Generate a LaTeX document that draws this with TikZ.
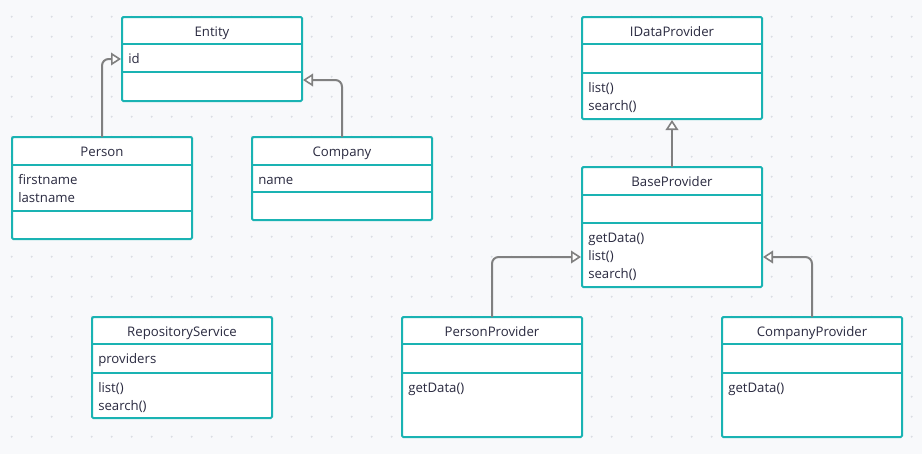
\documentclass[tikz,border=0pt]{standalone}
\usepackage{fontspec}
\setmainfont{Open Sans}
\usetikzlibrary{arrows.meta,calc}
\definecolor{teal1}{RGB}{26,179,179}
\definecolor{txt}{RGB}{42,42,64}
\definecolor{arr}{RGB}{128,128,128}
\definecolor{bg}{RGB}{248,249,251}
\definecolor{dotc}{RGB}{218,221,227}
\tikzset{inhtip/.tip={Triangle[length=7.5pt, width=9.5pt, fill=white, line width=1.2pt]}}
\begin{document}
\begin{tikzpicture}[x=0.75pt,y=-0.75pt,
  cls/.style={draw=teal1, line width=1.5pt, fill=white, minimum width=135pt, anchor=north west, inner sep=0pt, outer sep=0pt, rounded corners=1pt},
  ttl/.style={anchor=base, inner sep=0pt, text=txt, font=\fontsize{9.9pt}{13.5pt}\selectfont},
  itm/.style={anchor=base west, inner sep=0pt, text=txt, font=\fontsize{9.9pt}{13.5pt}\selectfont},
  divl/.style={draw=teal1, line width=1.5pt},
  inh/.style={draw=arr, line width=1.5pt, arrows={-inhtip}, shorten >=0.75pt}]
\fill[bg] (0,0) rectangle (922,454);
\useasboundingbox (0,0) rectangle (922,454);
\foreach \i in {0,...,45} \foreach \j in {0,...,21} \fill[dotc] (11.7+20*\i, 16.7+20*\j) circle (0.8pt);
% boxes
\node[cls, minimum height=63pt] (entity) at (122,17) {};
\node[cls, minimum height=76.5pt] (person) at (12,137) {};
\node[cls, minimum height=62.25pt] (company) at (252,137) {};
\node[cls, minimum height=76.5pt] (idp) at (582,17) {};
\node[cls, minimum height=90pt] (base) at (582,167) {};
\node[cls, minimum height=75.75pt] (repo) at (92,317) {};
\node[cls, minimum height=90pt] (pprov) at (402,317) {};
\node[cls, minimum height=90pt] (cprov) at (722,317) {};
% dividers
\draw[divl] ($(entity.north west)+(0,27)$) -- ($(entity.north east)+(0,27)$);
\draw[divl] ($(entity.north west)+(0,55)$) -- ($(entity.north east)+(0,55)$);
\draw[divl] ($(person.north west)+(0,28)$) -- ($(person.north east)+(0,28)$);
\draw[divl] ($(person.north west)+(0,74)$) -- ($(person.north east)+(0,74)$);
\draw[divl] ($(company.north west)+(0,28)$) -- ($(company.north east)+(0,28)$);
\draw[divl] ($(company.north west)+(0,55)$) -- ($(company.north east)+(0,55)$);
\draw[divl] ($(idp.north west)+(0,27)$) -- ($(idp.north east)+(0,27)$);
\draw[divl] ($(idp.north west)+(0,56)$) -- ($(idp.north east)+(0,56)$);
\draw[divl] ($(base.north west)+(0,28)$) -- ($(base.north east)+(0,28)$);
\draw[divl] ($(base.north west)+(0,56)$) -- ($(base.north east)+(0,56)$);
\draw[divl] ($(repo.north west)+(0,27)$) -- ($(repo.north east)+(0,27)$);
\draw[divl] ($(repo.north west)+(0,56)$) -- ($(repo.north east)+(0,56)$);
\draw[divl] ($(pprov.north west)+(0,27)$) -- ($(pprov.north east)+(0,27)$);
\draw[divl] ($(pprov.north west)+(0,56)$) -- ($(pprov.north east)+(0,56)$);
\draw[divl] ($(cprov.north west)+(0,27)$) -- ($(cprov.north east)+(0,27)$);
\draw[divl] ($(cprov.north west)+(0,56)$) -- ($(cprov.north east)+(0,56)$);
% texts
\node[ttl] (entityT) at (212,36.5) {Entity};
\node[itm] (entityA1) at (128,63.5) {id};
\node[ttl] (personT) at (102,156.5) {Person};
\node[itm] (personA1) at (18,184.5) {firstname};
\node[itm] (personA2) at (18,202.5) {lastname};
\node[ttl] (companyT) at (342,156.5) {Company};
\node[itm] (companyA1) at (258,184.5) {name};
\node[ttl] (idpT) at (672,36.5) {IDataProvider};
\node[itm] (idpM1) at (588,92.5) {list()};
\node[itm] (idpM2) at (588,110.5) {search()};
\node[ttl] (baseT) at (672,186.5) {BaseProvider};
\node[itm] (baseM1) at (588,242.5) {getData()};
\node[itm] (baseM2) at (588,260.5) {list()};
\node[itm] (baseM3) at (588,278.5) {search()};
\node[ttl] (repoT) at (182,336.5) {RepositoryService};
\node[itm] (repoA1) at (98,363.5) {providers};
\node[itm] (repoM1) at (98,392.5) {list()};
\node[itm] (repoM2) at (98,410.5) {search()};
\node[ttl] (pprovT) at (492,336.5) {PersonProvider};
\node[itm] (pprovM1) at (408,392.5) {getData()};
\node[ttl] (cprovT) at (812,336.5) {CompanyProvider};
\node[itm] (cprovM1) at (728,392.5) {getData()};
% connectors
\draw[inh] (person.north) [rounded corners=5pt] |- (entity.west);
\draw[inh] (company.north) [rounded corners=5pt] |- ($(entity.south east)!0.25!(entity.north east)$);
\draw[inh] (base.north) -- (idp.south);
\draw[inh] (pprov.north) [rounded corners=5pt] |- ($(base.south west)!0.25!(base.north west)$);
\draw[inh] (cprov.north) [rounded corners=5pt] |- ($(base.south east)!0.25!(base.north east)$);
\end{tikzpicture}
\end{document}
